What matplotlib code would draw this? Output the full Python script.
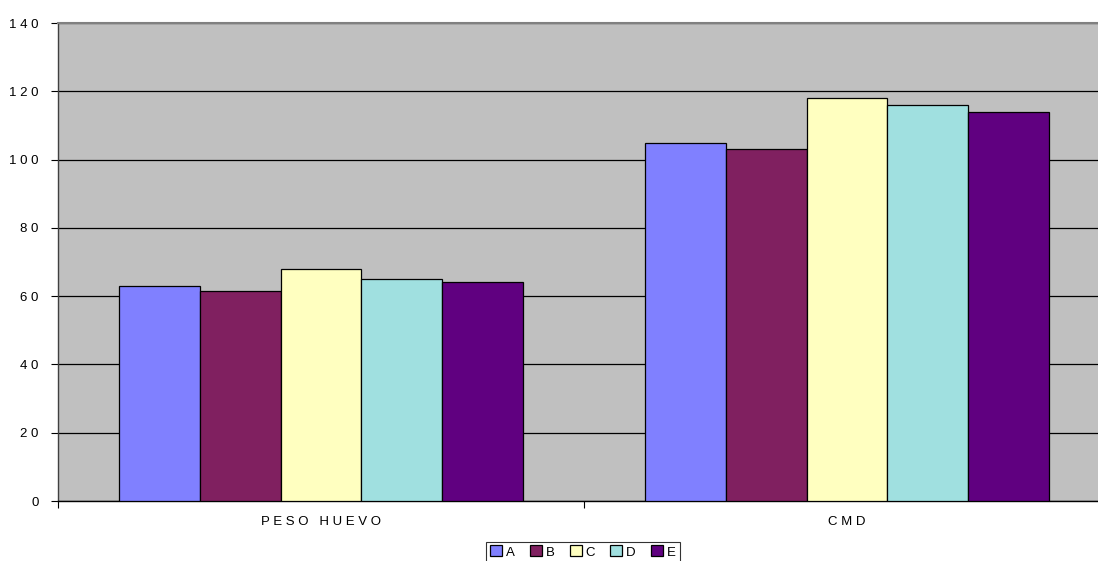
import numpy as np
import matplotlib
matplotlib.use('Agg')
import matplotlib.pyplot as plt

plt.rcParams['font.family'] = ['Liberation Sans', 'DejaVu Sans']

categories = ['PESO HUEVO', 'CMD']
series = ['A', 'B', 'C', 'D', 'E']
values = {
    'A': [63, 105],
    'B': [61.5, 103],
    'C': [68, 118],
    'D': [65, 116],
    'E': [64, 114],
}
colors = ['#8080FF', '#802060', '#FFFFC0', '#A0E0E0', '#600080']
yticks = [0, 20, 40, 60, 80, 100, 120, 140]


def spaced(s):
    # wide letter spacing for the axis labels
    return ' '.join(s)


fig = plt.figure(figsize=(10.98, 5.61), dpi=100)
# plot area runs a little past the right edge of the figure
ax = fig.add_axes([58 / 1098, 1 - 501 / 561, 1052 / 1098, 478 / 561])
ax.set_facecolor('#C0C0C0')

x = np.arange(len(categories))
w = 0.1536
for i, s in enumerate(series):
    off = (i - 2) * w
    ax.bar(x + off, values[s], width=w, color=colors[i], edgecolor='black',
           linewidth=0.9, label=s, zorder=3)

ax.set_xlim(-0.5, 1.5)
ax.set_ylim(0, 140)
ax.set_yticks(yticks)
ax.set_yticklabels([spaced(str(v)) for v in yticks], fontsize=9.5)
ax.yaxis.grid(True, color='black', linewidth=0.9, zorder=1)
ax.set_axisbelow(True)

# categories labelled at centres, ticks at boundaries
ax.set_xticks([-0.5, 0.5, 1.5])
ax.set_xticklabels([])
ax.set_xticks(x, minor=True)
ax.set_xticklabels([spaced(c) for c in categories], minor=True, fontsize=9.5)
ax.tick_params(axis='x', which='minor', length=0, pad=11)
ax.tick_params(axis='x', which='major', length=5, width=0.8, direction='out')
ax.tick_params(axis='y', length=5, width=0.8, direction='out', pad=9)

ax.spines['top'].set_color('#808080')
ax.spines['top'].set_linewidth(1.5)
ax.spines['right'].set_visible(False)
ax.spines['left'].set_color('#404040')
ax.spines['left'].set_linewidth(1.0)
ax.spines['bottom'].set_color('black')
ax.spines['bottom'].set_linewidth(1.0)

leg = fig.legend(loc='center', bbox_to_anchor=(583 / 1098, 1 - 552 / 561), ncol=5,
                 frameon=True, fancybox=False, fontsize=9.5, handlelength=0.9,
                 handleheight=0.9, handletextpad=0.3, columnspacing=1.15,
                 borderpad=0.3, borderaxespad=0)
leg.get_frame().set_edgecolor('black')
leg.get_frame().set_linewidth(0.8)

fig.savefig('out.png', dpi=100)
